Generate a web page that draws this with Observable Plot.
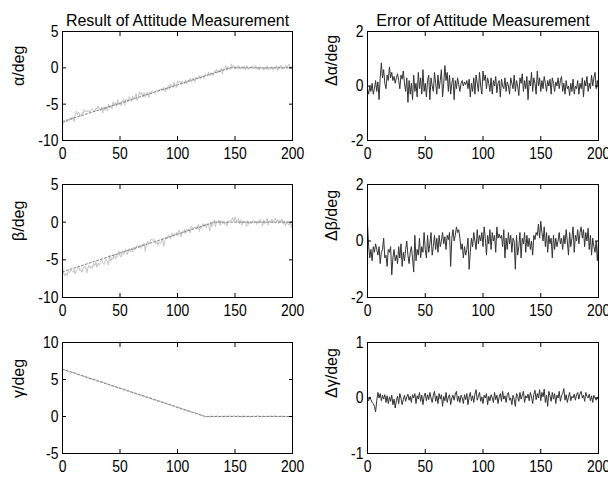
<!DOCTYPE html>
<html><head><meta charset="utf-8">
<script src="https://cdn.jsdelivr.net/npm/d3@7"></script>
<script src="https://cdn.jsdelivr.net/npm/@observablehq/plot@0.6"></script>
<style>
body{margin:0;background:#fff}
#c{position:relative;width:608px;height:483px;overflow:hidden;background:#fff}
#c svg{position:absolute;overflow:visible;background:transparent}
</style>
</head><body><div id="c"></div>
<script>
// ---- data ----
const xTicks = [0, 50, 100, 150, 200];
const yTicksAngle = [-10, -5, 0, 5];
const yTicksGamma = [-5, 0, 5, 10];
const yTicksErr2 = [-2, 0, 2];
const yTicksErr1 = [-1, 0, 1];

// true attitude (piecewise linear breakpoints)
const truthAlphaX = [0, 146, 200], truthAlphaY = [-7.4, 0, 0];
const truthBetaX  = [0, 132, 200], truthBetaY  = [-6.6, 0, 0];
const truthGammaX = [0, 124, 200], truthGammaY = [6.4, 0, 0];

// measurement errors, one value per step 0..200
const errAlpha = [
 -0.1,-0.3,0.0,-0.2,0.1,-0.3,-0.1,0.2,-0.2,0.15,-0.5,0.3,0.85,0.3,0.6,0.1,-0.1,0.4,0.2,0.7,
 0.3,0.5,0.2,0.35,0.1,0.3,0.45,0.2,-0.1,0.4,0.25,0.55,0.1,-0.2,0.3,-0.6,0.2,-0.3,0.1,-0.5,
 0.4,-0.2,0.1,-0.4,0.5,-0.1,0.3,-0.3,0.6,-0.2,0.1,-0.4,0.2,0.4,-0.5,0.3,0.0,-0.2,0.5,0.1,
 -0.3,0.4,-0.1,0.2,0.6,-0.4,0.1,0.75,0.2,0.5,-0.2,0.4,-0.3,0.1,0.3,-0.5,0.2,-0.1,0.3,0.05,
 -0.2,0.1,0.2,0.0,0.15,0.05,0.2,-0.1,0.25,-0.4,0.1,-0.2,0.3,-0.3,0.4,0.1,-0.2,0.5,0.0,-0.3,
 0.55,0.2,0.4,-0.1,0.3,0.1,-0.2,0.3,-0.3,0.2,0.0,0.35,-0.25,0.1,0.2,-0.4,0.25,0.0,-0.1,0.3,
 -0.2,0.15,0.0,-0.3,0.3,0.1,-0.1,0.4,-0.2,0.2,0.0,-0.35,0.3,0.1,0.45,-0.2,0.2,-0.1,0.35,-0.5,
 0.2,0.0,0.5,-0.2,0.3,0.1,-0.3,0.55,0.0,0.3,-0.2,0.2,-0.1,0.35,0.1,-0.2,0.2,0.0,0.25,-0.3,
 0.3,0.1,-0.2,0.15,0.0,0.3,-0.1,0.2,0.35,-0.2,0.1,-0.3,0.2,-0.1,0.0,-0.35,0.1,-0.2,0.25,-0.3,
 0.0,-0.1,0.2,-0.3,0.1,-0.1,0.3,-0.4,0.2,0.0,0.35,-0.2,0.1,-0.1,0.4,0.0,0.3,0.5,-0.1,0.2,
 -0.1];
const errBeta = [
 0.6,-0.2,-0.6,-0.3,-0.7,-0.2,-0.4,-0.1,-0.3,-0.5,-0.2,-0.8,-0.4,-0.3,0.1,-0.6,-0.5,-0.9,-0.3,-0.4,
 -0.2,-1.2,-0.6,-0.3,-0.7,-0.5,-0.8,-0.2,-0.6,-0.1,-0.9,-0.4,-0.7,-0.3,0.0,-0.5,-0.8,-0.4,-0.2,-0.6,
 -1.1,0.2,-0.7,-0.3,-0.5,0.1,-0.6,-0.2,-0.4,0.3,-0.3,-0.6,0.2,-0.4,-0.1,0.3,-0.5,-0.2,0.2,-0.3,
 0.1,-0.4,0.2,-0.2,0.0,0.3,-0.1,0.15,-0.3,0.2,0.05,0.3,-0.9,0.1,0.4,0.0,0.2,0.5,0.3,0.4,
 0.1,-0.3,-0.1,-0.6,-0.2,-0.5,-0.3,0.1,-1.0,-0.4,0.1,-0.2,0.3,0.0,-0.3,0.4,-0.1,0.2,0.0,0.3,
 -0.2,0.5,0.1,-0.5,0.2,-0.1,0.4,-0.3,0.3,0.0,0.2,-0.4,0.5,0.1,0.25,0.1,0.2,-0.2,0.4,-0.6,
 0.1,-0.3,0.3,-0.1,0.2,-0.4,0.1,0.0,-1.0,0.2,-0.5,-0.2,0.3,-0.6,0.1,-0.1,0.3,-0.4,0.2,-0.2,
 0.1,-0.3,0.0,-0.5,0.2,0.05,0.3,0.2,0.6,0.1,0.7,0.3,0.0,0.5,-0.2,0.3,-0.4,0.2,-0.1,0.1,
 -0.6,0.2,-0.3,0.1,-0.2,0.0,0.3,-0.1,0.1,-0.3,0.2,-0.1,0.4,0.0,-0.5,0.3,-0.2,0.1,0.5,-0.4,
 0.2,0.0,0.4,-0.1,0.3,0.5,0.1,0.4,-0.2,0.3,0.0,0.45,-0.3,0.2,-0.5,0.1,-0.2,-0.4,0.0,-0.7,
 0.0];
const errGamma = [
 0.0,-0.05,0.02,-0.03,-0.08,-0.1,-0.15,-0.25,-0.05,0.1,0.0,0.08,-0.05,0.05,-0.02,0.06,-0.08,0.04,-0.1,0.02,
 -0.06,0.05,-0.12,-0.02,-0.18,-0.05,0.03,-0.1,0.08,0.0,-0.12,-0.03,0.05,-0.06,0.02,0.07,-0.04,0.03,-0.08,0.06,
 0.0,0.08,-0.1,0.04,-0.02,0.1,-0.06,0.05,-0.12,0.03,0.09,-0.05,0.06,-0.03,0.1,0.0,-0.08,0.05,0.12,-0.06,
 0.04,-0.1,0.08,-0.02,0.06,-0.15,0.03,-0.05,0.1,-0.08,0.02,0.06,-0.12,0.0,0.05,-0.04,0.07,0.12,-0.06,0.03,
 -0.08,0.05,0.0,-0.1,0.06,-0.03,0.08,-0.12,0.02,0.1,-0.05,0.04,-0.08,0.07,0.15,-0.04,0.03,0.1,-0.06,0.02,
 -0.1,0.05,0.0,0.08,-0.12,0.03,-0.05,0.06,0.0,-0.08,0.1,-0.03,0.05,-0.1,0.02,0.08,-0.06,0.12,-0.02,0.04,
 -0.08,0.06,0.1,-0.04,0.0,-0.12,0.05,-0.02,-0.15,0.08,0.03,-0.06,0.1,-0.02,0.05,0.12,-0.08,0.04,0.0,0.07,
 -0.05,0.1,0.02,-0.1,0.06,0.14,-0.03,0.08,0.0,0.15,-0.05,0.1,0.02,0.16,-0.08,0.05,-0.15,0.12,0.04,-0.06,
 0.1,-0.02,0.08,-0.1,0.05,0.0,0.12,-0.06,0.04,0.08,0.17,-0.04,0.06,-0.08,0.02,0.1,-0.05,0.03,0.0,0.07,
 -0.04,0.06,0.1,-0.02,0.08,0.12,0.0,0.05,-0.06,0.1,0.03,0.0,0.07,-0.05,0.04,-0.08,0.05,0.0,-0.04,0.02,
 -0.03];

const titleLeft = "Result of Attitude Measurement";
const titleRight = "Error of Attitude Measurement";

// ---- build ----
const font = "'Liberation Sans', Arial, Helvetica, sans-serif";
const root = document.getElementById("c");

function truthPts(xs, ys) { return xs.map((x, i) => ({x, y: ys[i]})); }
function measured(xs, ys, err) {
  const t = d3.scaleLinear().domain(xs).range(ys);
  return err.map((e, i) => ({x: i, y: t(i) + e}));
}
function errPts(err) { return err.map((e, i) => ({x: i, y: e})); }

const rows = [
  {frameTop: 31, frameH: 109},
  {frameTop: 184, frameH: 113},
  {frameTop: 342, frameH: 111}
];
const cols = [
  {svgLeft: 0, frameLeft: 62, frameW: 230, labelDx: -44},
  {svgLeft: 304, frameLeft: 367, frameW: 231, labelDx: -36}
];

const panels = [
  {r: 0, c: 0, domain: [-10, 5], ticks: yTicksAngle, label: "α/deg", title: titleLeft,
   marks: [Plot.line(measured(truthAlphaX, truthAlphaY, errAlpha), {x: "x", y: "y", stroke: "#c4c4c4", strokeWidth: 1}),
           Plot.line(truthPts(truthAlphaX, truthAlphaY), {x: "x", y: "y", stroke: "#808080", strokeWidth: 1, strokeDasharray: "2,2"})]},
  {r: 0, c: 1, domain: [-2, 2], ticks: yTicksErr2, label: "Δα/deg", title: titleRight,
   marks: [Plot.line(errPts(errAlpha), {x: "x", y: "y", stroke: "#333", strokeWidth: 1})]},
  {r: 1, c: 0, domain: [-10, 5], ticks: yTicksAngle, label: "β/deg",
   marks: [Plot.line(measured(truthBetaX, truthBetaY, errBeta), {x: "x", y: "y", stroke: "#c4c4c4", strokeWidth: 1}),
           Plot.line(truthPts(truthBetaX, truthBetaY), {x: "x", y: "y", stroke: "#808080", strokeWidth: 1, strokeDasharray: "2,2"})]},
  {r: 1, c: 1, domain: [-2, 2], ticks: yTicksErr2, label: "Δβ/deg",
   marks: [Plot.line(errPts(errBeta), {x: "x", y: "y", stroke: "#333", strokeWidth: 1})]},
  {r: 2, c: 0, domain: [-5, 10], ticks: yTicksGamma, label: "γ/deg",
   marks: [Plot.line(measured(truthGammaX, truthGammaY, errGamma), {x: "x", y: "y", stroke: "#c4c4c4", strokeWidth: 1}),
           Plot.line(truthPts(truthGammaX, truthGammaY), {x: "x", y: "y", stroke: "#808080", strokeWidth: 1, strokeDasharray: "2,2"})]},
  {r: 2, c: 1, domain: [-1, 1], ticks: yTicksErr1, label: "Δγ/deg",
   marks: [Plot.line(errPts(errGamma), {x: "x", y: "y", stroke: "#333", strokeWidth: 1})]}
];

const fmt = d => String(d);
for (const p of panels) {
  const row = rows[p.r], col = cols[p.c];
  const top = row.frameTop - 31;
  const marginLeft = col.frameLeft - col.svgLeft;
  const width = 304;
  const marginRight = width - marginLeft - col.frameW;
  const height = 31 + row.frameH + 30;
  const extra = [];
  if (p.title) extra.push(Plot.text([p.title], {frameAnchor: "top", dy: -17, fontSize: 16, fill: "black"}));
  const svg = Plot.plot({
    width, height, marginLeft, marginRight, marginTop: 31, marginBottom: 30,
    style: {fontFamily: font, fontSize: "14px", background: "transparent", color: "black"},
    x: {domain: [0, 200], label: null},
    y: {domain: p.domain, label: null},
    marks: [
      ...p.marks,
      Plot.frame({stroke: "black", strokeWidth: 1}),
      Plot.axisX(xTicks, {anchor: "bottom", tickSize: 0, tickPadding: 6, tickFormat: fmt, fontSize: 17, fill: "black"}),
      Plot.axisX(xTicks, {anchor: "bottom", tickSize: -4, text: null, stroke: "black"}),
      Plot.axisX(xTicks, {anchor: "top", tickSize: -4, text: null, stroke: "black"}),
      Plot.axisY(p.ticks, {anchor: "left", tickSize: 0, tickPadding: 4, tickFormat: fmt, fontSize: 17, fill: "black"}),
      Plot.axisY(p.ticks, {anchor: "left", tickSize: -4, text: null, stroke: "black"}),
      Plot.axisY(p.ticks, {anchor: "right", tickSize: -4, text: null, stroke: "black"}),
      Plot.text([p.label], {frameAnchor: "left", rotate: -90, dx: col.labelDx, fontSize: 16, fill: "black"}),
      ...extra
    ]
  });
  // narrow, tall tick digits like the original figure
  svg.querySelectorAll('g[aria-label="x-axis tick label"] text, g[aria-label="y-axis tick label"] text').forEach(t => {
    const tr = t.getAttribute("transform") || "";
    t.setAttribute("transform", tr + " scale(0.82,1)");
  });
  svg.style.left = col.svgLeft + "px";
  svg.style.top = top + "px";
  root.appendChild(svg);
}
</script>
</body></html>
